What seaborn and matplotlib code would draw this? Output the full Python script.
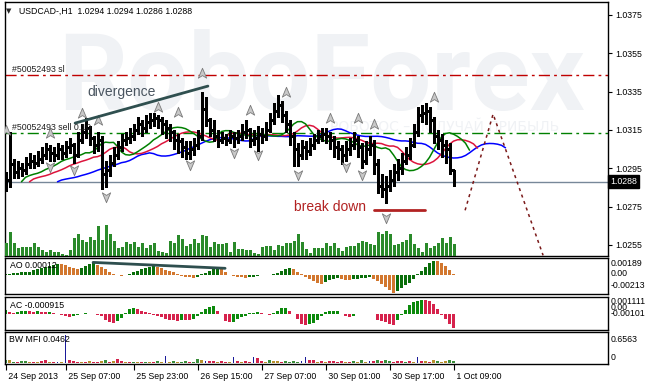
import numpy as np
import pandas as pd
import matplotlib
matplotlib.use("Agg")
import matplotlib.pyplot as plt
import matplotlib.transforms as mtransforms
from matplotlib.path import Path
import seaborn as sns

# ---------------- data ----------------
first_open = 1.0286
closes = [
    1.0289, 1.0297, 1.0293, 1.0295, 1.0294, 1.0297, 1.0299, 1.0298, 1.0300, 1.0302,
    1.0305, 1.0303, 1.0302, 1.0305, 1.0303, 1.0306, 1.0307, 1.0302, 1.0310, 1.0314,
    1.0316, 1.0311, 1.0307, 1.0310, 1.0292, 1.0294, 1.0298, 1.0302, 1.0306, 1.0310,
    1.0311, 1.0312, 1.0315, 1.0318, 1.0316, 1.0319, 1.0320, 1.0321, 1.0320, 1.0318,
    1.0316, 1.0314, 1.0310, 1.0309, 1.0306, 1.0303, 1.0305, 1.0307, 1.0312, 1.0326,
    1.0320, 1.0315, 1.0312, 1.0310, 1.0311, 1.0310, 1.0312, 1.0311, 1.0312, 1.0314,
    1.0315, 1.0310, 1.0311, 1.0313, 1.0312, 1.0315, 1.0320, 1.0325, 1.0328, 1.0323,
    1.0318, 1.0312, 1.0305, 1.0302, 1.0306, 1.0304, 1.0307, 1.0310, 1.0312, 1.0313,
    1.0312, 1.0310, 1.0306, 1.0305, 1.0302, 1.0305, 1.0307, 1.0310, 1.0306, 1.0299,
    1.0305, 1.0307, 1.0297, 1.0286, 1.0284, 1.0286, 1.0289, 1.0293, 1.0295, 1.0299,
    1.0302, 1.0307, 1.0314, 1.0323, 1.0324, 1.0325, 1.0320, 1.0312, 1.0310, 1.0307,
    1.0305, 1.0294, 1.0288]
highs = [
    1.0293, 1.0314, 1.0300, 1.0299, 1.0298, 1.0301, 1.0303, 1.0302, 1.0304, 1.0306,
    1.0308, 1.0307, 1.0306, 1.0308, 1.0307, 1.0309, 1.0311, 1.0308, 1.0314, 1.0318,
    1.0321, 1.0317, 1.0312, 1.0314, 1.0312, 1.0299, 1.0302, 1.0306, 1.0309, 1.0313,
    1.0314, 1.0316, 1.0318, 1.0322, 1.0320, 1.0323, 1.0324, 1.0324, 1.0323, 1.0322,
    1.0320, 1.0318, 1.0315, 1.0313, 1.0311, 1.0309, 1.0309, 1.0311, 1.0315, 1.0335,
    1.0332, 1.0321, 1.0320, 1.0315, 1.0314, 1.0313, 1.0315, 1.0314, 1.0315, 1.0318,
    1.0320, 1.0316, 1.0315, 1.0317, 1.0316, 1.0319, 1.0324, 1.0329, 1.0333, 1.0330,
    1.0325, 1.0320, 1.0314, 1.0308, 1.0310, 1.0309, 1.0311, 1.0313, 1.0315, 1.0316,
    1.0316, 1.0314, 1.0312, 1.0309, 1.0307, 1.0309, 1.0311, 1.0314, 1.0312, 1.0308,
    1.0309, 1.0312, 1.0310, 1.0300, 1.0292, 1.0291, 1.0294, 1.0297, 1.0300, 1.0303,
    1.0306, 1.0311, 1.0318, 1.0327, 1.0328, 1.0329, 1.0327, 1.0322, 1.0315, 1.0313,
    1.0310, 1.0308, 1.0294]
lows = [
    1.0283, 1.0285, 1.0290, 1.0290, 1.0291, 1.0292, 1.0295, 1.0295, 1.0296, 1.0298,
    1.0300, 1.0299, 1.0299, 1.0300, 1.0300, 1.0301, 1.0303, 1.0298, 1.0301, 1.0308,
    1.0311, 1.0307, 1.0303, 1.0304, 1.0284, 1.0285, 1.0291, 1.0296, 1.0300, 1.0304,
    1.0307, 1.0308, 1.0310, 1.0313, 1.0312, 1.0314, 1.0316, 1.0317, 1.0316, 1.0313,
    1.0311, 1.0309, 1.0305, 1.0303, 1.0301, 1.0300, 1.0300, 1.0302, 1.0305, 1.0310,
    1.0317, 1.0312, 1.0309, 1.0306, 1.0308, 1.0307, 1.0308, 1.0306, 1.0308, 1.0310,
    1.0311, 1.0306, 1.0307, 1.0304, 1.0308, 1.0310, 1.0314, 1.0318, 1.0322, 1.0319,
    1.0314, 1.0307, 1.0296, 1.0296, 1.0300, 1.0300, 1.0302, 1.0305, 1.0308, 1.0309,
    1.0308, 1.0305, 1.0301, 1.0300, 1.0297, 1.0299, 1.0302, 1.0305, 1.0301, 1.0295,
    1.0297, 1.0302, 1.0292, 1.0282, 1.0280, 1.0277, 1.0283, 1.0286, 1.0289, 1.0292,
    1.0297, 1.0300, 1.0306, 1.0312, 1.0319, 1.0318, 1.0314, 1.0308, 1.0305, 1.0301,
    1.0298, 1.0292, 1.0286]
volumes = [
    1300, 2400, 1300, 800, 900, 900, 900, 1300, 900, 600,
    400, 600, 400, 400, 200, 100, 600, 1800, 2200, 1600,
    1400, 1900, 1600, 3000, 1600, 3100, 2200, 1500, 800, 900,
    1400, 1200, 1400, 900, 1300, 800, 1100, 1300, 500, 400,
    300, 1500, 1300, 2100, 1700, 1000, 1200, 1700, 1300, 2100,
    2000, 900, 1400, 1200, 1200, 1300, 400, 1400, 700, 700,
    600, 600, 300, 200, 900, 1000, 1000, 600, 1100, 1000,
    1300, 1300, 1500, 2200, 1400, 700, 300, 800, 800, 800,
    1300, 1000, 1300, 800, 500, 900, 1000, 1000, 1300, 1500,
    1400, 1200, 1100, 2400, 2200, 2500, 2200, 1100, 1200, 1400,
    1600, 2200, 1200, 800, 400, 1300, 800, 1000, 1300, 1800,
    1300, 1900, 1200]
ao = [  # units of 0.0001
    0.5, 1.1, 1.6, 2.2, 2.7, 3.0, 3.3, 4.9, 6.5, 7.6,
    8.7, 9.8, 10.9, 11.9, 11.4, 10.3, 8.7, 7.1, 6.0, 7.6,
    9.8, 11.9, 12.7, 10.9, 8.7, 6.0, 3.3, 1.1, -0.5, -1.1,
    -0.9, 1.1, 2.7, 4.3, 6.0, 7.1, 8.7, 9.2, 8.1, 7.1,
    5.4, 4.3, 2.7, 1.1, -1.1, -2.2, -2.7, -3.3, -2.2, 0.5,
    2.2, 4.3, 6.0, 7.1, 6.5, 2.7, -0.5, -1.6, -2.2, -2.7,
    -3.3, -2.9, -2.2, -1.1, -0.5, -0.3, 0.0, 0.5, 1.6, 3.8,
    6.5, 6.8, 6.0, 3.3, 0.5, -2.2, -4.3, -6.5, -8.7, -9.8,
    -7.6, -6.0, -4.9, -3.8, -4.3, -5.4, -6.0, -4.9, -4.3, -3.8,
    -3.3, -2.7, -4.3, -6.5, -9.8, -13.6, -17.4, -19.9, -18.5, -15.2,
    -11.9, -8.7, -4.3, 0.8, 4.3, 8.7, 12.5, 15.5, 14.7, 12.5,
    9.2, 5.4, 1.2]
ac = [  # units of 0.0001
    2.5, 1.0, 0.5, 1.5, 2.0, 2.2, 1.8, 1.5, 2.0, 1.5,
    1.0, 1.5, 0.5, 0.0, -0.5, -1.0, -2.0, -1.2, -0.5, 0.0,
    0.5, 0.3, 0.0, -0.3, -1.5, -3.5, -5.0, -5.5, -4.5, -2.5,
    0.5, 3.0, 4.0, 3.5, 2.0, 1.0, 0.5, -0.5, -1.0, -2.0,
    -3.0, -3.5, -4.0, -4.2, -3.5, -3.8, -4.0, -3.0, -1.0, 1.5,
    3.0, 4.5, 4.8, 2.0, -0.2, -4.6, -5.3, -5.0, -3.0, -2.0,
    -1.0, 0.4, 0.8, 1.0, 0.8, 0.0, -0.6, 0.8, 2.0, 3.6,
    4.0, 2.0, 0.0, -3.0, -6.0, -7.0, -6.3, -5.5, -3.8, -1.0,
    1.5, 2.0, 2.1, 2.2, 0.0, -1.0, -2.0, -1.0, -0.2, -0.1,
    0.0, -0.1, -0.2, -3.6, -4.2, -5.3, -6.3, -6.7, -3.6, -0.4,
    2.7, 5.9, 7.4, 8.4, 9.0, 8.9, 8.4, 6.3, 3.1, -0.4,
    -3.0, -6.0, -9.15]
mfi = [
    .07, .07, .02, .02, .05, .05, .02, .02, .02, .05,
    .07, .02, .02, .02, .02, .6563, .07, .05, .02, .02,
    .02, .05, .02, .02, .05, .07, .02, .05, .09, .05,
    .02, .02, .02, .02, .02, .02, .02, .02, .05, .02,
    .16, .02, .05, .02, .02, .05, .02, .02, .09, .07,
    .05, .05, .05, .02, .05, .02, .02, .14, .05, .02,
    .05, .02, .14, .12, .05, .02, .07, .05, .05, .02,
    .05, .02, .05, .02, .05, .14, .07, .07, .02, .05,
    .02, .05, .05, .02, .05, .02, .02, .05, .02, .07,
    .02, .05, .05, .07, .05, .07, .05, .02, .05, .05,
    .02, .05, .02, .14, .05, .05, .02, .07, .05, .02,
    .05, .07, .0462]
mfi_codes = ("gogrggoror" "rorbobrrro" "rorrogrorr" "orgorgorgo" "bogoggrggo"
             "brrorrobro" "rrbrrogoor" "ggggbbrror" "orrrrorgog" "obrgrggrrr"
             "grobrorogo" "ogg")
fr_up_idx = [0, 11, 19, 23, 38, 43, 49, 61, 70, 81, 88, 92, 107]
fr_up_price = [1.03150, 1.03134, 1.03239, 1.03202, 1.03270, 1.03244, 1.03447,
               1.03254, 1.03348, 1.03213, 1.03213, 1.03181, 1.03322]
fr_dn_idx = [11, 17, 25, 46, 57, 63, 73, 85, 89, 95]
fr_dn_price = [1.02957, 1.02941, 1.02800, 1.02967, 1.03030, 1.03020, 1.02915,
               1.02957, 1.02915, 1.02691]
tick_idx = [0, 15, 32, 48, 64, 80, 96, 112]
tick_labels = ["24 Sep 2013", "25 Sep 07:00", "25 Sep 23:00", "26 Sep 15:00",
               "27 Sep 07:00", "30 Sep 01:00", "30 Sep 17:00", "1 Oct 09:00"]
price_ticks = [1.0255, 1.0275, 1.0295, 1.0315, 1.0335, 1.0355, 1.0375]
sl_price = 1.03437
sell_price = 1.03134
last_price = 1.0288
div_x, div_y = [17.4, 50.6], [1.03186, 1.03379]
ao_div_x, ao_div_y = [21.9, 54.9], [0.00135, 0.00070]
brk_x, brk_y = [92.1, 104.9], [1.02735, 1.02735]
fc_x, fc_y = [114.9, 121.9, 134.4], [1.02731, 1.03233, 1.02496]

assert len(closes) == len(highs) == len(lows) == len(volumes) == len(ao) == len(ac) == len(mfi) == len(mfi_codes)

# ---------------- figure ----------------
sns.set_style("white")
plt.rcParams['font.family'] = ['Liberation Sans', 'DejaVu Sans']
plt.rcParams['patch.force_edgecolor'] = False

W, H = 650, 384
fig = plt.figure(figsize=(6.5, 3.84), dpi=100)
fig.patch.set_facecolor('white')


def rect(x0, y0, x1, y1):
    return [x0 / W, 1 - y1 / H, (x1 - x0) / W, (y1 - y0) / H]


def P(px, py):
    return px / W, 1 - py / H


ax = fig.add_axes(rect(4.5, 2, 608, 256))
ax_ao = fig.add_axes(rect(4.5, 257.5, 608, 294), sharex=ax)
ax_ac = fig.add_axes(rect(4.5, 296.5, 608, 330), sharex=ax)
ax_mf = fig.add_axes(rect(4.5, 332, 608, 364), sharex=ax)

idx = np.arange(len(closes))
c = np.array(closes)
h = np.array(highs)
l = np.array(lows)
o = np.array([first_open] + closes[:-1])

# volume on twin axis (bottom of main window)
axv = ax.twinx()
axv.vlines(idx, 0, volumes, color='#2A8A2A', lw=1.0, antialiased=False)
axv.set_ylim(0, 25400)
axv.set_axis_off()

ax.set_xlim(-0.25, 150.625)
ax.set_ylim(1.024926, 1.038178)

# watermark
ax.text(0.0887, 0.5748, "RoboForex", transform=ax.transAxes, fontsize=78,
        fontfamily="Roboto", fontweight="bold", color="#F0F2F5", zorder=0,
        va="baseline", ha="left")
ax.text(0.539, 0.508, "РОБОТОС – ПОЛУЧАЙ ПРИБЫЛЬ", transform=ax.transAxes,
        fontsize=10, color="#F0F2F5", zorder=0, va="center", ha="left",
        fontfamily=["DejaVu Sans"])

# level lines
ax.axhline(sl_price, color='#C00000', lw=1, linestyle=(0, (8, 3, 2, 3)), zorder=2)
ax.axhline(sell_price, color='#008000', lw=1, linestyle=(0, (8, 3, 2, 3)), zorder=2)
ax.axhline(last_price, color='#778899', lw=1, zorder=2)

# alligator


def smma(vals, n):
    out = np.empty(len(vals))
    out[0] = vals[0]
    for k in range(1, len(vals)):
        out[k] = (out[k - 1] * (n - 1) + vals[k]) / n
    return out


med = (h + l) / 2
jaw = smma(med, 13)
teeth = smma(med, 8)
lips = smma(med, 5)
sns.lineplot(x=idx + 13, y=jaw, ax=ax, color='#0000FF', lw=1.1, zorder=3)
sns.lineplot(x=idx + 6, y=teeth, ax=ax, color='#DC143C', lw=1.1, zorder=3)
sns.lineplot(x=idx + 4, y=lips, ax=ax, color='#008000', lw=1.1, zorder=3)

# price bars
ax.vlines(idx, l, h, color='black', lw=1.0, antialiased=False, zorder=4)
ax.hlines(o, idx - 0.3, idx, color='black', lw=0.8, antialiased=False, zorder=4)
ax.hlines(c, idx, idx + 0.3, color='black', lw=0.8, antialiased=False, zorder=4)

# fractals
up_m = Path([(0, 1), (0.8, -0.9), (0, -0.4), (-0.8, -0.9), (0, 1)],
            [Path.MOVETO, Path.LINETO, Path.LINETO, Path.LINETO, Path.CLOSEPOLY])
dn_m = Path([(0, -1), (0.8, 0.9), (0, 0.4), (-0.8, 0.9), (0, -1)],
            [Path.MOVETO, Path.LINETO, Path.LINETO, Path.LINETO, Path.CLOSEPOLY])
ax.plot(fr_up_idx, fr_up_price, ls='none', marker=up_m, ms=7.5, mfc='#C8C8C8',
        mec='#7A7A7A', mew=0.6, zorder=5)
ax.plot(fr_dn_idx, fr_dn_price, ls='none', marker=dn_m, ms=7.5, mfc='#C8C8C8',
        mec='#7A7A7A', mew=0.6, zorder=5)

# analyst drawings
sns.lineplot(x=div_x, y=div_y, ax=ax, color='#2F4F4F', lw=2.0, zorder=6)
sns.lineplot(x=brk_x, y=brk_y, ax=ax, color='#B22222', lw=2.0, zorder=6)
sns.lineplot(x=fc_x, y=fc_y, ax=ax, color='#7B1A1A', lw=1.1, zorder=6,
             linestyle=(0, (2, 2.5)), sort=False)

# axes styling main
ax.yaxis.tick_right()
ax.set_yticks(price_ticks)
ax.set_yticklabels([f"{v:.4f}" for v in price_ticks])
ax.tick_params(axis='y', direction='out', length=3, width=0.8, pad=2,
               labelsize=6.3, colors='black', right=True, left=False)
ax.tick_params(axis='x', bottom=False, labelbottom=False)
ax.set_xlabel("")
ax.set_ylabel("")

ax.text(1.003, last_price, "1.0288",
        transform=mtransforms.blended_transform_factory(ax.transAxes, ax.transData),
        ha='left', va='center', fontsize=6.3, color='white', zorder=10, clip_on=False,
        bbox=dict(boxstyle='square,pad=0.25', fc='black', ec='black'))

# AO panel
ao_v = np.array(ao) * 1e-4
ao_col = ['#0A6E0A' if k == 0 or ao_v[k] > ao_v[k - 1] else '#D2772E' for k in range(len(ao_v))]
ax_ao.bar(idx, ao_v, width=0.75, color=ao_col, linewidth=0, edgecolor='none',
          antialiased=False, zorder=2)
sns.lineplot(x=ao_div_x, y=ao_div_y, ax=ax_ao, color='#2F4F4F', lw=2.0, zorder=3)
ax_ao.set_ylim(-0.00213, 0.00189)

# AC panel
ac_v = np.array(ac) * 1e-4
ac_col = ['#0C8A0C' if k == 0 or ac_v[k] > ac_v[k - 1] else '#D6224C' for k in range(len(ac_v))]
ax_ac.bar(idx, ac_v, width=0.75, color=ac_col, linewidth=0, edgecolor='none',
          antialiased=False, zorder=2)
ax_ac.set_ylim(-0.00101, 0.001111)

# BW MFI panel
cmap = {'g': '#3A8E3A', 'o': '#B8902C', 'r': '#D2234B', 'b': '#1A1A9A'}
mf_col = [cmap[k] for k in mfi_codes]
mf_w = [0.3 if k == 'b' else 0.75 for k in mfi_codes]
ax_mf.bar(idx, mfi, width=mf_w, color=mf_col, linewidth=0, edgecolor='none',
          antialiased=False, zorder=2)
ax_mf.set_ylim(-0.0234, 0.7266)

for a in (ax_ao, ax_ac, ax_mf):
    a.set_yticks([])
    a.set_xlabel("")
    a.set_ylabel("")
for a in (ax_ao, ax_ac):
    a.tick_params(axis='x', bottom=False, labelbottom=False)
for a in (ax, ax_ao, ax_ac, ax_mf):
    for s in a.spines.values():
        s.set_color('black')
        s.set_linewidth(1.0)

ax_mf.set_xticks(tick_idx)
ax_mf.set_xticklabels([" " + t for t in tick_labels])
ax_mf.tick_params(axis='x', bottom=True, direction='out', length=4, width=0.8,
                  pad=1.5, labelsize=6.3, colors='black')
plt.setp(ax_mf.get_xticklabels(), ha='left')
ax_mf.set_xlim(-0.25, 150.625)

# texts
fig.text(*P(6, 11), "▼", fontsize=5, va='center', ha='left', fontfamily=['DejaVu Sans'])
fig.text(*P(19, 11), "USDCAD-,H1  1.0294 1.0294 1.0286 1.0288", fontsize=6.3,
         va='center', ha='left', color='black')
fig.text(*P(12, 70), "#50052493 sl", fontsize=6.3, va='center', ha='left', color='#202020')
fig.text(*P(12, 128), "#50052493 sell 0.10", fontsize=6.3, va='center', ha='left', color='#202020')
fig.text(*P(87, 92), "divergence", fontsize=10, va='center', ha='left', color='#4A5560')
fig.text(*P(294, 207), "break down", fontsize=10, va='center', ha='left', color='#B22222')
fig.text(*P(10, 266), "AO 0.00012", fontsize=6.3, va='center', ha='left', color='black')
fig.text(*P(10, 305), "AC -0.000915", fontsize=6.3, va='center', ha='left', color='black')
fig.text(*P(9, 340), "BW MFI 0.0462", fontsize=6.3, va='center', ha='left', color='black')

for txt, py in [("0.00189", 264), ("0.00", 274), ("-0.00213", 285),
                ("0.001111", 301), ("0.00", 307), ("-0.00101", 314),
                ("0.6563", 339), ("0", 357)]:
    fig.text(*P(611, py), txt, fontsize=6.3, va='center', ha='left', color='black')

fig.savefig("out.png", dpi=100, facecolor='white')
